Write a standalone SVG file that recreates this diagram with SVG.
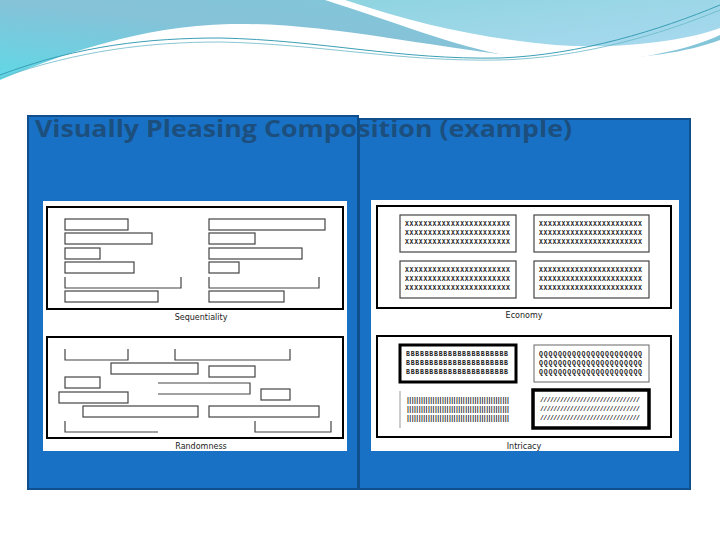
<svg xmlns="http://www.w3.org/2000/svg" width="720" height="540" viewBox="0 0 720 540">
<defs>
<linearGradient id="g1" x1="0" y1="1" x2="1" y2="0"><stop offset="0" stop-color="#5fd8e6"/><stop offset="0.5" stop-color="#86c2d8"/><stop offset="1" stop-color="#7fc9da"/></linearGradient>
<linearGradient id="g2" x1="0" y1="0" x2="1" y2="1"><stop offset="0" stop-color="#8fd4e0"/><stop offset="1" stop-color="#a9d9ef"/></linearGradient>
<style>
.bar{fill:#fff;stroke:#444;stroke-width:1.2}
.ln{fill:none;stroke:#444;stroke-width:1.2}
.fr{fill:#fff;stroke:#000;stroke-width:2}
.cap{font-family:"DejaVu Sans",sans-serif;font-size:8px;fill:#222;text-anchor:middle}
.pt{font-family:"Liberation Mono",monospace;font-size:6.5px;fill:#222;font-weight:bold}
</style>
</defs>
<rect width="720" height="540" fill="#fff"/>
<g id="header">
<path d="M0,0 H720 V40 C680,55 620,62 540,58 C450,52 330,22 230,24 C140,26 60,55 0,80 Z" fill="url(#g1)"/>
<path d="M325,0 H720 V35 C690,50 620,65 560,62 C480,58 420,30 325,0 Z" fill="#fff"/>
<path d="M345,0 H720 V28 C690,40 620,50 555,45 C480,38 420,25 345,0 Z" fill="url(#g2)"/>
<path d="M0,75 C80,45 150,38 220,38 C320,40 400,60 500,58 C580,55 660,30 720,5" fill="none" stroke="#3a9fb5" stroke-width="1"/>
<path d="M0,78 C80,50 150,42 220,42 C320,44 400,62 500,60 C580,58 660,35 720,10" fill="none" stroke="#6ab8c8" stroke-width="0.8"/>
</g>
<g id="panels">
<rect x="28" y="116" width="330" height="373" fill="#1971c6" stroke="#0f4f8e" stroke-width="2"/>
<rect x="359" y="119" width="331" height="370" fill="#1971c6" stroke="#0f4f8e" stroke-width="2"/>
<text x="35" y="137" font-family="'Open Sans','DejaVu Sans',sans-serif" font-size="24" font-weight="bold" fill="#1c4f7d" textLength="537" lengthAdjust="spacingAndGlyphs">Visually Pleasing Composition (example)</text>
</g>
<g id="left-image">
<rect x="43" y="201" width="304" height="250" fill="#fff"/>
<rect class="fr" x="47" y="207" width="296" height="102"/>
<text class="cap" x="201" y="320">Sequentiality</text>
<rect class="bar" x="65" y="219" width="63" height="11"/>
<rect class="bar" x="65" y="233" width="87" height="11"/>
<rect class="bar" x="65" y="248" width="35" height="11"/>
<rect class="bar" x="65" y="262" width="69" height="11"/>
<path class="ln" d="M65,277 V288 H181 V277"/>
<rect class="bar" x="65" y="291" width="93" height="11"/>
<rect class="bar" x="209" y="219" width="116" height="11"/>
<rect class="bar" x="209" y="233" width="46" height="11"/>
<rect class="bar" x="209" y="248" width="93" height="11" stroke="#999"/>
<rect class="bar" x="209" y="262" width="30" height="11"/>
<path class="ln" d="M209,277 V288 H319 V277"/>
<rect class="bar" x="209" y="291" width="75" height="11"/>
<rect class="fr" x="47" y="337" width="296" height="101"/>
<text class="cap" x="201" y="449">Randomness</text>
<path class="ln" d="M65,349 V360 H128 V349"/>
<path class="ln" d="M175,349 V360 H290 V349"/>
<rect class="bar" x="111" y="363" width="87" height="11"/>
<rect class="bar" x="209" y="366" width="46" height="11"/>
<rect class="bar" x="65" y="377" width="35" height="11"/>
<path class="ln" d="M158,383 H250 V394 H158"/>
<rect class="bar" x="59" y="392" width="69" height="11" stroke="#999"/>
<rect class="bar" x="261" y="389" width="29" height="11"/>
<rect class="bar" x="83" y="406" width="115" height="11"/>
<rect class="bar" x="209" y="406" width="110" height="11"/>
<path class="ln" d="M65,421 V432 H158"/>
<path class="ln" d="M255,421 V432 H331 V421"/>
</g>
<g id="right-image">
<rect x="371" y="200" width="308" height="251" fill="#fff"/>
<rect class="fr" x="377" y="206" width="294" height="102"/>
<text class="cap" x="524" y="318">Economy</text>
<g class="bar" stroke="#666">
<rect x="400" y="215" width="116" height="37"/><rect x="534" y="215" width="115" height="37"/>
<rect x="400" y="261" width="116" height="37"/><rect x="534" y="261" width="115" height="37"/>
</g>
<g class="pt">
<text x="405" y="226" textLength="105">XXXXXXXXXXXXXXXXXXXXXXX</text>
<text x="405" y="235" textLength="105">XXXXXXXXXXXXXXXXXXXXXXX</text>
<text x="405" y="244" textLength="105">XXXXXXXXXXXXXXXXXXXXXXX</text>
<text x="539" y="226" textLength="103">XXXXXXXXXXXXXXXXXXXXXXX</text>
<text x="539" y="235" textLength="103">XXXXXXXXXXXXXXXXXXXXXXX</text>
<text x="539" y="244" textLength="103">XXXXXXXXXXXXXXXXXXXXXXX</text>
<text x="405" y="272" textLength="105">XXXXXXXXXXXXXXXXXXXXXXX</text>
<text x="405" y="281" textLength="105">XXXXXXXXXXXXXXXXXXXXXXX</text>
<text x="405" y="290" textLength="105">XXXXXXXXXXXXXXXXXXXXXXX</text>
<text x="539" y="272" textLength="103">XXXXXXXXXXXXXXXXXXXXXXX</text>
<text x="539" y="281" textLength="103">XXXXXXXXXXXXXXXXXXXXXXX</text>
<text x="539" y="290" textLength="103">XXXXXXXXXXXXXXXXXXXXXXX</text>
</g>
<rect class="fr" x="377" y="336" width="294" height="101"/>
<text class="cap" x="524" y="449">Intricacy</text>
<rect x="400" y="345" width="116" height="37" fill="#fff" stroke="#000" stroke-width="3"/>
<rect x="534" y="345" width="115" height="37" fill="#fff" stroke="#666" stroke-width="1"/>
<path d="M400,391 V428" stroke="#999" stroke-width="1"/>
<rect x="533" y="390" width="116" height="38" fill="#fff" stroke="#000" stroke-width="3.5"/>
<g class="pt">
<text x="406" y="356" textLength="102">BBBBBBBBBBBBBBBBBBBBBB</text>
<text x="406" y="365" textLength="102">BBBBBBBBBBBBBBBBBBBBBB</text>
<text x="406" y="374" textLength="102">BBBBBBBBBBBBBBBBBBBBBB</text>
<text x="539" y="356" textLength="103">QQQQQQQQQQQQQQQQQQQQQQ</text>
<text x="539" y="365" textLength="103">QQQQQQQQQQQQQQQQQQQQQQ</text>
<text x="539" y="374" textLength="103">QQQQQQQQQQQQQQQQQQQQQQ</text>
<text x="406" y="402" textLength="104">||||||||||||||||||||||||||||||||||||||||||||</text>
<text x="406" y="411" textLength="104">||||||||||||||||||||||||||||||||||||||||||||</text>
<text x="406" y="420" textLength="104">||||||||||||||||||||||||||||||||||||||||||||</text>
<text x="540" y="402" textLength="100">//////////////////////////////</text>
<text x="540" y="411" textLength="100">//////////////////////////////</text>
<text x="540" y="420" textLength="100">//////////////////////////////</text>
</g>
</g>
</svg>
